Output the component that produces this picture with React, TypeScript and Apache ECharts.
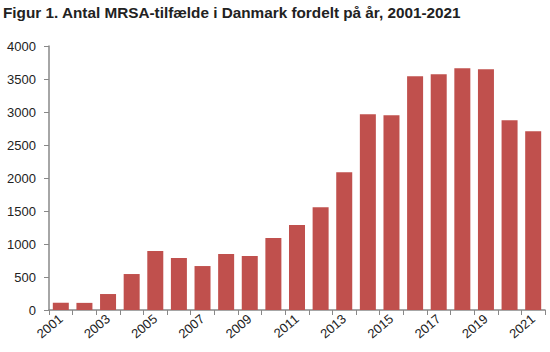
import React, { useEffect, useRef } from "react";
import * as echarts from "echarts";

const years = ["2001","2002","2003","2004","2005","2006","2007","2008","2009","2010","2011","2012","2013","2014","2015","2016","2017","2018","2019","2020","2021"];
const cases = [110, 108, 242, 545, 893, 787, 666, 847, 817, 1092, 1286, 1558, 2088, 2966, 2950, 3540, 3571, 3661, 3646, 2875, 2708];
const yTicks = { min: 0, max: 4000, interval: 500 };
const titleText = "Figur 1. Antal MRSA-tilfælde i Danmark fordelt på år, 2001-2021";

export default function App() {
  const ref = useRef<HTMLDivElement>(null);
  useEffect(() => {
    document.body.style.margin = "0";
    if (!ref.current) return;
    const chart = echarts.init(ref.current, null, { renderer: "svg" });
    chart.setOption({
      animation: false,
      graphic: [
        {
          type: "text",
          x: 3,
          y: 5,
          style: {
            text: titleText,
            x: 0,
            y: 0,
            textAlign: "left",
            textVerticalAlign: "top",
            fontFamily: "Liberation Sans",
            fontWeight: "bold",
            fontSize: 15.3,
            fill: "#222",
          },
        },
      ],
      grid: { left: 49, right: 5, top: 46, bottom: 42 },
      xAxis: {
        type: "category",
        data: years,
        boundaryGap: true,
        axisLine: { lineStyle: { color: "#888", width: 1.5 } },
        axisTick: { show: true, alignWithLabel: false, interval: 0, length: 5, lineStyle: { color: "#888" } },
        axisLabel: { interval: 1, rotate: 40, margin: 7, fontFamily: "Liberation Sans", fontSize: 13, color: "#222" },
      },
      yAxis: {
        type: "value",
        min: yTicks.min,
        max: yTicks.max,
        interval: yTicks.interval,
        splitLine: { show: false },
        axisLine: { show: true, lineStyle: { color: "#888", width: 1.5 } },
        axisTick: { show: true, length: 5, lineStyle: { color: "#888" } },
        axisLabel: { margin: 13, fontFamily: "Liberation Sans", fontSize: 13, color: "#222", formatter: (v: number) => String(v) },
      },
      series: [
        {
          type: "bar",
          data: cases,
          barWidth: 16,
          itemStyle: { color: "#C0504D" },
        },
      ],
    });
    return () => chart.dispose();
  }, []);
  return <div ref={ref} style={{ width: 550, height: 352 }} />;
}
